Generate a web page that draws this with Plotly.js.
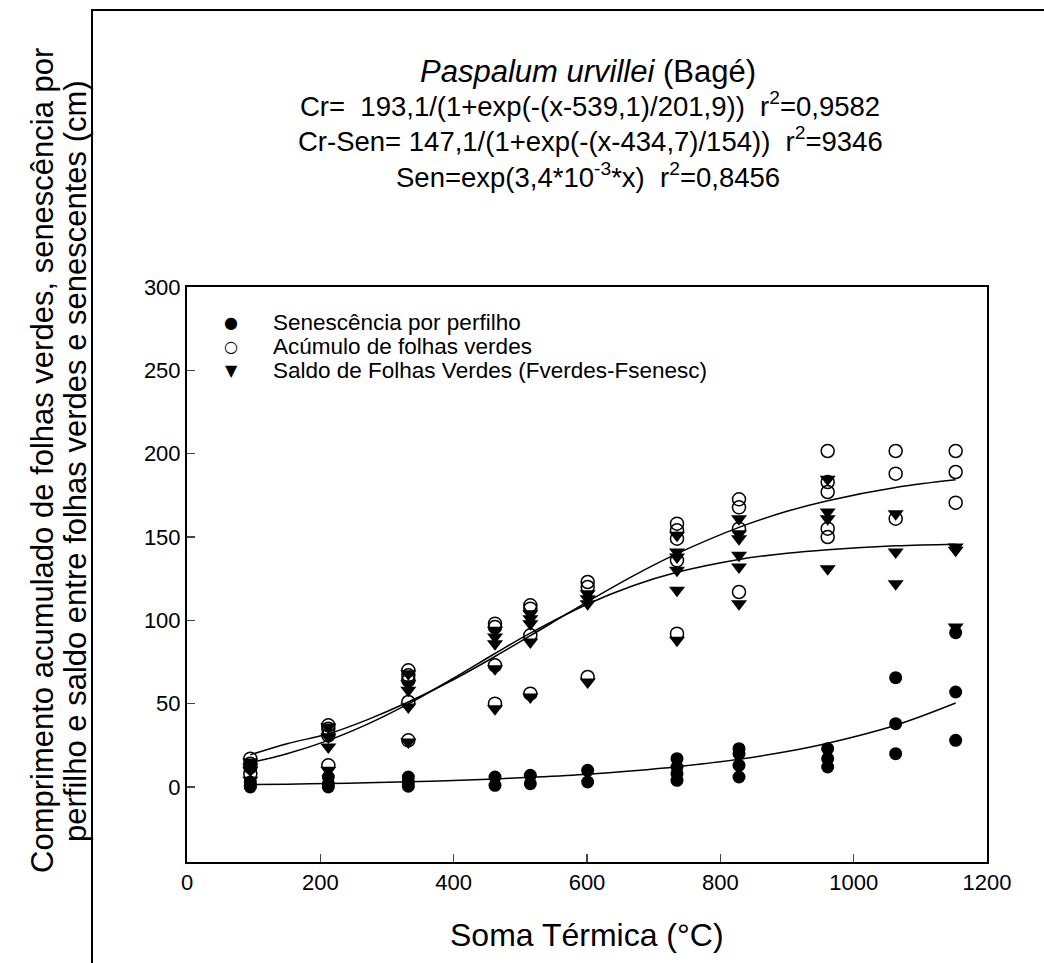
<!DOCTYPE html>
<html>
<head>
<meta charset="utf-8">
<script src="https://cdn.plot.ly/plotly-3.0.1.min.js"></script>
<style>html,body{margin:0;padding:0;background:#fff;}#chart{width:1044px;height:963px;}</style>
</head>
<body>
<div id="chart"></div>
<script>
const senX = [95,95,95, 212,212,212, 332,332,332, 462,462, 515,515, 601,601, 735,735,735,735, 828,828,828,828, 961,961,961, 1063,1063,1063, 1153,1153,1153];
const senY = [0,1,3, 6,2,0, 6,3,0.5, 6,1, 7,2, 10,3, 17,12,8,4, 23,20,13,6, 23,17,12, 65.6,38,20, 92.6,57,28];

const acuX = [95,95,95,95, 212,212,212,212, 332,332,332,332,332, 462,462,462,462, 515,515,515,515, 601,601,601, 735,735,735,735,735, 828,828,828,828, 961,961,961,961,961, 1063,1063,1063, 1153,1153,1153];
const acuY = [17,14,12,8, 37,35,31,13, 70,67,64,51,28, 98,96,73,50, 109,107,91,56, 123,120,66, 158,154,149,136,92, 172.6,167.8,155,117, 201.6,183,177,155,150, 201.6,188,161, 201.6,189,170.6];

const salX = [95,95,95,95, 212,212,212,212, 332,332,332,332,332, 462,462,462,462,462, 515,515,515,515,515, 601,601,601,601, 735,735,735,735,735,735, 828,828,828,828,828,828, 961,961,961,961, 1063,1063,1063, 1153,1153,1153];
const salY = [15,12,10,4, 36,30,24,10, 68,62,58,48,27, 94,90,86,71,47, 104,101,98,87,54, 116,113,110,63, 151,141,138,130,118,88, 161,152,149,139,132,110, 184.6,165,161,131, 164,141,122, 144,142,96];

// Fitted curves
const fitX   = [95, 150, 212, 270, 332, 400, 462, 515, 601, 670, 735, 828, 900, 961, 1063, 1153];
const fitCr  = [19.3, 26.0, 31.9, 40.3, 51.0, 64.5, 78.3, 90.8, 111.2, 126.8, 140.0, 155.8, 165.4, 171.8, 179.7, 184.3];
const fitCrS = [14.6, 20.0, 28.0, 37.6, 49.9, 65.3, 80.1, 92.3, 109.8, 120.9, 128.8, 136.5, 140.3, 142.4, 144.7, 145.7];
const fitSen = [1.4, 1.7, 2.1, 2.5, 3.1, 3.9, 4.8, 5.8, 7.7, 9.8, 12.2, 16.7, 21.3, 26.3, 37.1, 50.4];

const xTicks = [0, 200, 400, 600, 800, 1000, 1200];
const yTicks = [0, 50, 100, 150, 200, 250, 300];

const legendNames = ["Senescência por perfilho", "Acúmulo de folhas verdes", "Saldo de Folhas Verdes (Fverdes-Fsenesc)"];
const legendSymbols = ["●", "○", "▼"];
const titleLines = [
  "<i>Paspalum urvillei</i> (Bagé)",
  "Cr=  193,1/(1+exp(-(x-539,1)/201,9))  r<sup>2</sup>=0,9582",
  "Cr-Sen= 147,1/(1+exp(-(x-434,7)/154))  r<sup>2</sup>=9346",
  "Sen=exp(3,4*10<sup>-3</sup>*x)  r<sup>2</sup>=0,8456"
];
const xTitle = "Soma Térmica (°C)";
const yTitleLines = ["Comprimento acumulado de folhas verdes, senescência por",
                     "perfilho e saldo entre folhas verdes e senescentes (cm)"];

const FONT = "Liberation Sans, Arial, Helvetica, sans-serif";

const lineStyle = {color: "black", width: 1.5, shape: "spline"};
const traces = [
  {x: fitX, y: fitCr, mode: "lines", line: lineStyle, showlegend: false, hoverinfo: "skip"},
  {x: fitX, y: fitCrS, mode: "lines", line: lineStyle, showlegend: false, hoverinfo: "skip"},
  {x: fitX, y: fitSen, mode: "lines", line: lineStyle, showlegend: false, hoverinfo: "skip"},
  {x: senX, y: senY, mode: "markers", name: legendNames[0], showlegend: false,
   marker: {symbol: "circle", size: 13, color: "black"}},
  {x: acuX, y: acuY, mode: "markers", name: legendNames[1], showlegend: false,
   marker: {symbol: "circle-open", size: 13, color: "black", line: {width: 1.5, color: "black"}}},
  {x: salX, y: salY, mode: "markers", name: legendNames[2], showlegend: false,
   marker: {symbol: "triangle-down", size: 14, color: "black"}}
];

const L = 187, R = 987, T = 287, B = 862;
function px(x) { return (x - L) / (R - L); }
function py(y) { return (B - y) / (B - T); }

const legendRows = [322, 346, 370];
const annotations = [
  {text: titleLines[0], x: px(588), y: py(71), font: {size: 31}},
  {text: titleLines[1], x: px(590), y: py(104), font: {size: 27.5}},
  {text: titleLines[2], x: px(590), y: py(140), font: {size: 27.5}},
  {text: titleLines[3], x: px(588), y: py(176), font: {size: 27.5}},
  {text: yTitleLines[0], x: px(42), y: py(461), textangle: -90, font: {size: 31}},
  {text: yTitleLines[1], x: px(75), y: py(461), textangle: -90, font: {size: 31}},
  {text: xTitle, x: px(587), y: py(935), font: {size: 32}}
];
legendRows.forEach((ry, i) => {
  annotations.push({text: legendSymbols[i], x: px(231), y: py(ry), font: {size: 16, family: "DejaVu Sans"}});
  annotations.push({text: legendNames[i], x: px(271), y: py(ry), xanchor: "left", font: {size: 22.5}});
});
const annots = annotations.map(a => Object.assign({xref: "paper", yref: "paper", showarrow: false, xanchor: "center", yanchor: "middle"}, a));

const layout = {
  width: 1044, height: 963,
  margin: {l: L, r: 1044 - R, t: T, b: 963 - B, pad: 0},
  paper_bgcolor: "white", plot_bgcolor: "white",
  font: {family: FONT, color: "black"},
  showlegend: false,
  xaxis: {range: [0, 1200], tickvals: xTicks, ticks: "inside", ticklen: 8, tickwidth: 1.5,
          showline: true, linewidth: 2, linecolor: "black", mirror: true, zeroline: false, showgrid: false,
          tickfont: {size: 22}},
  yaxis: {range: [-45, 300], tickvals: yTicks, ticks: "inside", ticklen: 8, tickwidth: 1.5,
          showline: true, linewidth: 2, linecolor: "black", mirror: true, zeroline: false, showgrid: false,
          tickfont: {size: 22}},
  annotations: annots,
  shapes: [
    {type: "line", xref: "paper", yref: "paper", x0: px(92), x1: px(92), y0: py(10), y1: py(963), line: {color: "black", width: 2}},
    {type: "line", xref: "paper", yref: "paper", x0: px(91), x1: px(1044), y0: py(10), y1: py(10), line: {color: "black", width: 2}}
  ]
};

Plotly.newPlot("chart", traces, layout, {displayModeBar: false, staticPlot: true});
</script>
</body>
</html>
